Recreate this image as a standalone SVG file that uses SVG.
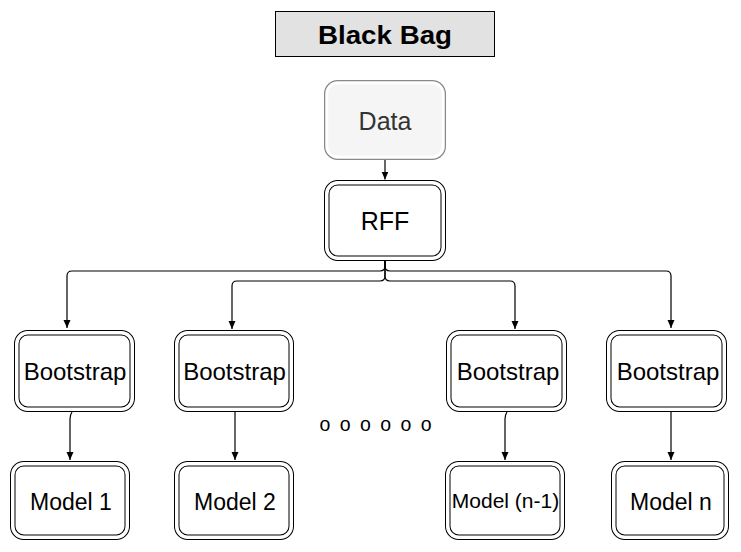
<svg xmlns="http://www.w3.org/2000/svg" width="741" height="552" viewBox="0 0 741 552">
<style>
.bo{fill:#fff;stroke:#000;stroke-width:5.5}
.bi{fill:none;stroke:#fff;stroke-width:3.5}
.t{font-family:"Liberation Sans",Arial,sans-serif;font-size:24px;fill:#000;text-anchor:middle}
.c{fill:none;stroke:#000;stroke-width:1.2}
</style>
<defs>
<marker id="ah" markerUnits="userSpaceOnUse" markerWidth="10" markerHeight="10" refX="8" refY="4" orient="auto">
<path d="M0,0.5 L8,4 L0,7.5 Z" fill="#000"/>
</marker>
</defs>
<rect width="741" height="552" fill="#fff"/>
<g id="title">
<rect x="275.5" y="11.5" width="219" height="45" fill="#e2e2e2" stroke="#000" stroke-width="1"/>
<text x="385" y="44" class="t" style="font-weight:bold;font-size:25px" textLength="134" lengthAdjust="spacingAndGlyphs">Black Bag</text>
</g>
<g id="data">
<rect x="326.75" y="82.75" width="116.5" height="74.5" rx="11" fill="#f5f5f5" stroke="#888" stroke-width="5.5"/>
<rect x="326.75" y="82.75" width="116.5" height="74.5" rx="11" fill="#f5f5f5" stroke="#fff" stroke-width="3"/>
<text x="385" y="129.5" class="t" style="fill:#333;font-size:25px">Data</text>
</g>
<g id="rff">
<rect x="326.75" y="182.75" width="116.5" height="75.5" rx="11" class="bo"/>
<rect x="326.75" y="182.75" width="116.5" height="75.5" rx="11" class="bi"/>
<text x="385" y="229.5" class="t" style="font-size:25px">RFF</text>
</g>
<g id="bootstrap1">
<rect x="16.75" y="332.75" width="115.5" height="76.5" rx="11" class="bo"/>
<rect x="16.75" y="332.75" width="115.5" height="76.5" rx="11" class="bi"/>
<text x="75" y="379.5" class="t">Bootstrap</text>
</g>
<g id="bootstrap2">
<rect x="176.75" y="332.75" width="114.5" height="76.5" rx="11" class="bo"/>
<rect x="176.75" y="332.75" width="114.5" height="76.5" rx="11" class="bi"/>
<text x="234.5" y="379.5" class="t">Bootstrap</text>
</g>
<g id="bootstrap3">
<rect x="448.75" y="332.75" width="115.5" height="76.5" rx="11" class="bo"/>
<rect x="448.75" y="332.75" width="115.5" height="76.5" rx="11" class="bi"/>
<text x="508" y="379.5" class="t">Bootstrap</text>
</g>
<g id="bootstrap4">
<rect x="608.75" y="332.75" width="115.5" height="76.5" rx="11" class="bo"/>
<rect x="608.75" y="332.75" width="115.5" height="76.5" rx="11" class="bi"/>
<text x="668" y="379.5" class="t">Bootstrap</text>
</g>
<g id="model1">
<rect x="12.75" y="463.75" width="114.5" height="73.5" rx="11" class="bo"/>
<rect x="12.75" y="463.75" width="114.5" height="73.5" rx="11" class="bi"/>
<text x="71" y="509.5" class="t" style="font-size:23px">Model 1</text>
</g>
<g id="model2">
<rect x="176.75" y="463.75" width="114.5" height="73.5" rx="11" class="bo"/>
<rect x="176.75" y="463.75" width="114.5" height="73.5" rx="11" class="bi"/>
<text x="235" y="509.5" class="t" style="font-size:23px">Model 2</text>
</g>
<g id="model3">
<rect x="447.75" y="463.75" width="114.5" height="73.5" rx="11" class="bo"/>
<rect x="447.75" y="463.75" width="114.5" height="73.5" rx="11" class="bi"/>
<text x="505.5" y="508" class="t" style="font-size:21px">Model (n-1)</text>
</g>
<g id="modeln">
<rect x="613.75" y="463.75" width="112.5" height="73.5" rx="11" class="bo"/>
<rect x="613.75" y="463.75" width="112.5" height="73.5" rx="11" class="bi"/>
<text x="671" y="509.5" class="t" style="font-size:23px">Model n</text>
</g>
<g id="ellipsis">
<text x="319.5" y="430.5" style="font-family:'Liberation Sans',Arial,sans-serif;font-size:19.5px;letter-spacing:9.4px;fill:#000">oooooo</text>
</g>
<g id="connectors">
<path class="c" d="M385 160 V179.5" marker-end="url(#ah)"/>
<path class="c" d="M385 261 V266 Q385 271 380 271 H72 Q67 271 67 276 V328" marker-end="url(#ah)"/>
<path class="c" d="M385 261 V266 Q385 271 390 271 H666 Q671 271 671 276 V328" marker-end="url(#ah)"/>
<path class="c" d="M385 261 V276 Q385 281 380 281 H237 Q232 281 232 286 V329" marker-end="url(#ah)"/>
<path class="c" d="M385 261 V276 Q385 281 390 281 H510 Q515 281 515 286 V329" marker-end="url(#ah)"/>
<path class="c" d="M72 412 Q70 415 70 419 V460" marker-end="url(#ah)"/>
<path class="c" d="M235 412 V460" marker-end="url(#ah)"/>
<path class="c" d="M507 412 Q505 415 505 419 V460" marker-end="url(#ah)"/>
<path class="c" d="M671 412 V460" marker-end="url(#ah)"/>
</g>
</svg>
